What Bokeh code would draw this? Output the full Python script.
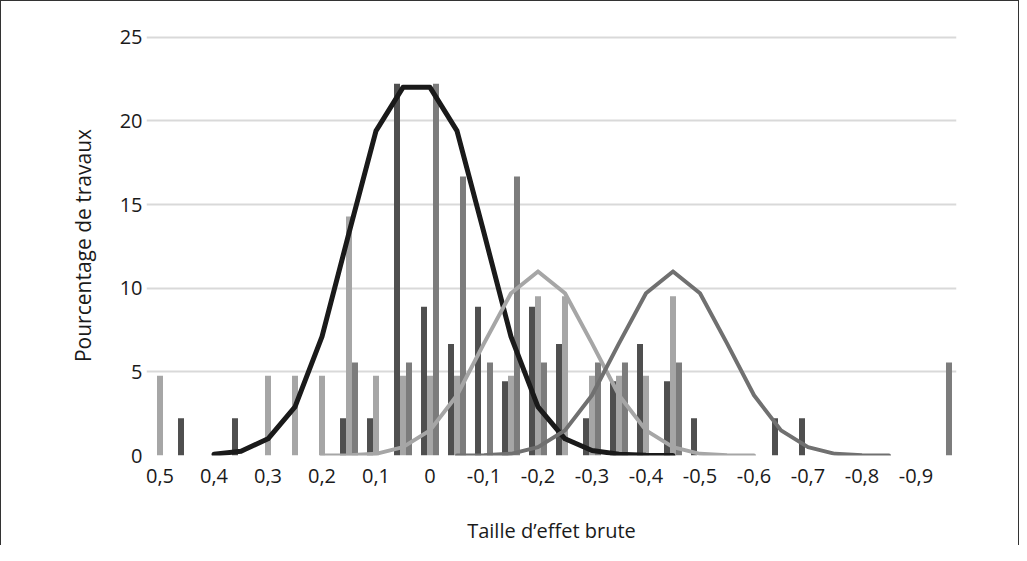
from bokeh.plotting import figure
from bokeh.models import Range1d, FixedTicker, ColumnDataSource
from bokeh.transform import dodge
from bokeh.embed import file_html
from bokeh.resources import INLINE

# Categories (effect size classes), 0.05 apart
categories = [0.5, 0.45, 0.4, 0.35, 0.3, 0.25, 0.2, 0.15, 0.1, 0.05, 0.0,
              -0.05, -0.1, -0.15, -0.2, -0.25, -0.3, -0.35, -0.4, -0.45,
              -0.5, -0.55, -0.6, -0.65, -0.7, -0.75, -0.8, -0.85, -0.9, -0.95]

# Bar series (percentage of studies)
dark_bars = [0, 2.22, 0, 2.22, 0, 0, 0, 2.22, 2.22, 22.22, 8.89, 6.67, 8.89, 4.44, 8.89,
             6.67, 2.22, 4.44, 6.67, 4.44, 2.22, 0, 0, 2.22, 2.22, 0, 0, 0, 0, 0]
light_bars = [4.76, 0, 0, 0, 4.76, 4.76, 4.76, 14.29, 4.76, 4.76, 4.76, 4.76, 0, 4.76, 9.52,
              9.52, 4.76, 4.76, 4.76, 9.52, 0, 0, 0, 0, 0, 0, 0, 0, 0, 0]
medium_bars = [0, 0, 0, 0, 0, 0, 0, 5.56, 0, 5.56, 22.22, 16.67, 5.56, 16.67, 5.56,
               0, 5.56, 5.56, 0, 5.56, 0, 0, 0, 0, 0, 0, 0, 0, 0, 5.56]

# Curves
black_x = [0.4, 0.35, 0.3, 0.25, 0.2, 0.15, 0.1, 0.05, 0.0, -0.05, -0.1, -0.15, -0.2,
           -0.25, -0.3, -0.35, -0.4, -0.45]
black_y = [0.08, 0.26, 1.0, 2.9, 7.1, 13.3, 19.4, 22.0, 22.0, 19.4, 13.3, 7.1, 2.9,
           1.0, 0.3, 0.08, 0.02, 0.0]
light_x = [0.2, 0.15, 0.1, 0.05, 0.0, -0.05, -0.1, -0.15, -0.2, -0.25, -0.3, -0.35,
           -0.4, -0.45, -0.5, -0.55, -0.6]
light_y = [0.0, 0.02, 0.1, 0.5, 1.5, 3.6, 6.7, 9.7, 11.0, 9.7, 6.7, 3.6, 1.5, 0.5,
           0.1, 0.02, 0.0]
medium_x = [-0.05, -0.1, -0.15, -0.2, -0.25, -0.3, -0.35, -0.4, -0.45, -0.5, -0.55,
            -0.6, -0.65, -0.7, -0.75, -0.8, -0.85]
medium_y = [0.0, 0.02, 0.1, 0.5, 1.5, 3.6, 6.7, 9.7, 11.0, 9.7, 6.7, 3.6, 1.5, 0.5,
            0.1, 0.02, 0.0]

tick_values = [0.5, 0.4, 0.3, 0.2, 0.1, 0.0, -0.1, -0.2, -0.3, -0.4, -0.5, -0.6, -0.7, -0.8, -0.9]
tick_labels = ["0,5", "0,4", "0,3", "0,2", "0,1", "0", "-0,1", "-0,2", "-0,3", "-0,4",
               "-0,5", "-0,6", "-0,7", "-0,8", "-0,9"]
y_ticks = [0, 5, 10, 15, 20, 25]

FONT = "Open Sans"

p = figure(width=1019, height=545, output_backend="svg", toolbar_location=None,
           x_range=Range1d(0.525, -0.975), y_range=Range1d(0, 25.1),
           min_border_left=145, min_border_right=64, min_border_top=34,
           min_border_bottom=90,
           styles={"border-left": "1.5px solid #333", "border-top": "1.5px solid #333",
                   "border-right": "1.5px solid #333"})
p.outline_line_color = None
p.background_fill_color = "white"
p.border_fill_color = "white"

src = ColumnDataSource(dict(x=categories, dark=dark_bars, light=light_bars, medium=medium_bars))
bw = 0.0111
p.vbar(x=dodge("x", bw, range=p.x_range), top="dark", width=bw, source=src,
       fill_color="#4f4f4f", line_color=None)
p.vbar(x=dodge("x", 0, range=p.x_range), top="light", width=bw, source=src,
       fill_color="#a6a6a6", line_color=None)
p.vbar(x=dodge("x", -bw, range=p.x_range), top="medium", width=bw, source=src,
       fill_color="#7c7c7c", line_color=None)

p.line(black_x, black_y, line_color="#1a1a1a", line_width=5, line_join="round", line_cap="round")
p.line(light_x, light_y, line_color="#a6a6a6", line_width=4, line_join="round", line_cap="round")
p.line(medium_x, medium_y, line_color="#707070", line_width=4, line_join="round", line_cap="round")

# axes
p.xaxis.ticker = FixedTicker(ticks=tick_values)
p.xaxis.major_label_overrides = dict(zip(tick_values, tick_labels))
p.yaxis.ticker = FixedTicker(ticks=y_ticks)
for ax in (p.xaxis[0], p.yaxis[0]):
    ax.axis_line_color = None
    ax.major_tick_line_color = None
    ax.minor_tick_line_color = None
    ax.major_tick_in = 0
    ax.major_tick_out = 0
    ax.major_label_text_font = FONT
    ax.major_label_text_font_size = "20px"
    ax.major_label_text_color = "#1a1a1a"
    ax.axis_label_text_font = FONT
    ax.axis_label_text_font_size = "20px"
    ax.axis_label_text_font_style = "normal"
    ax.axis_label_text_color = "#1a1a1a"

p.yaxis.axis_label_text_font_size = "21px"
p.xaxis.axis_label = "Taille d\u2019effet brute"
p.yaxis.axis_label = "Pourcentage de travaux"
p.xaxis.major_label_standoff = 13
p.xaxis.axis_label_standoff = 31
p.yaxis.major_label_standoff = 4
p.yaxis.axis_label_standoff = 20

p.xgrid.grid_line_color = None
p.ygrid.grid_line_color = "#d9d9d9"
p.ygrid.grid_line_width = 2

open("out.html", "w").write(file_html(p, INLINE))
